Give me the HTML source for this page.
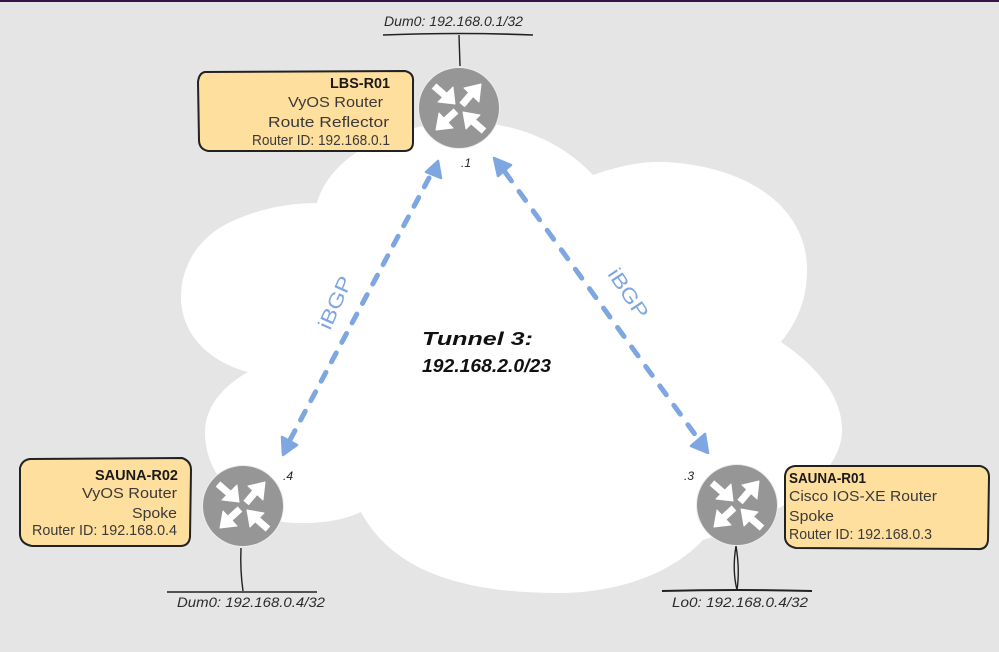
<!DOCTYPE html>
<html><head><meta charset="utf-8"><style>
html,body{margin:0;padding:0;background:#e5e5e5}
svg{display:block}
text{font-family:"Liberation Sans","DejaVu Sans",sans-serif;fill:#3a3a3a;font-size:15px}
.i{font-style:italic;font-size:14px;fill:#2b2b2b}
.b{font-weight:bold;fill:#1a1a1a}
.t{font-weight:bold;font-style:italic;fill:#111;font-size:18px}
.n{font-style:italic;font-size:12px;fill:#222}
.g{fill:#7ea6e0;font-size:20px}
</style></head><body>
<svg width="999" height="652" viewBox="0 0 999 652" xmlns="http://www.w3.org/2000/svg">
<defs>
<g id="r">
<circle r="40.5" fill="#969696" stroke="#ececec" stroke-width="1"/>
<g fill="#fff" stroke="#fff" stroke-linejoin="round">
<line x1="-25" y1="-22" x2="-10" y2="-9" stroke-width="7"/>
<polygon points="-4,-4 -21,-6 -6,-21" stroke-width="1"/>
<line x1="3" y1="-3" x2="14" y2="-16" stroke-width="7"/>
<polygon points="22,-24 5,-20 20,-6" stroke-width="1"/>
<line x1="-3" y1="3" x2="-15" y2="14" stroke-width="7"/>
<polygon points="-23,22 -20,5 -6,20" stroke-width="1"/>
<line x1="25" y1="23" x2="10" y2="10" stroke-width="7"/>
<polygon points="4,4 21,7 7,21" stroke-width="1"/>
</g>
</g>
</defs>
<rect width="999" height="652" fill="#e5e5e5"/>
<rect width="999" height="2" fill="#3b1048"/>
<path fill="#fff" d="M317 203 C330 155 395 122 465 122 C520 122 565 145 593 175 C618 166 642 161 665 162 C745 166 807 205 807 270 C807 300 797 322 781 342 C815 365 842 395 842 430 C842 480 770 520 703 540 C670 575 615 593 560 593 C470 593 395 575 361 512 C340 522 310 525 283 522 C240 510 205 475 205 433 C205 405 225 385 248 372 C210 362 181 335 181 297 C181 260 205 232 235 220 C262 208 290 203 317 203 Z"/>

<g stroke="#7ea6e0" stroke-width="5" fill="none" stroke-linecap="round">
<line x1="429" y1="178" x2="290" y2="440" stroke-dasharray="10 12"/>
<line x1="505" y1="172" x2="699" y2="440" stroke-dasharray="11 13"/>
</g>
<g fill="#7ea6e0" stroke="#7ea6e0" stroke-width="2.5" stroke-linejoin="round">
<polygon points="438,161 441,178 426,172"/>
<polygon points="283,455 282,437 297,445"/>
<polygon points="494,158 511,165 498,176"/>
<polygon points="708,453 691,446 705,434"/>
</g>

<g stroke="#222" fill="none" stroke-width="1.4">
<path d="M383 35 Q460 32 533 35" stroke-width="1.6"/>
<path d="M459 35 L460 66"/>
<path d="M241 548 Q240 570 243 591"/>
<path d="M167 592 L317 592" stroke-width="1.6"/>
<path d="M662 591 Q737 589 812 591" stroke-width="2"/>
<path d="M736 546 Q732 570 737 590 Q740 570 736 546"/>
</g>

<use href="#r" x="459" y="108"/>
<use href="#r" x="243" y="506"/>
<use href="#r" x="737" y="505"/>

<g fill="#ffdf9e" stroke="#222" stroke-width="2">
<path d="M205 72 L405 71 Q414 73 413 82 L413 142 Q413 151 404 151 L208 151 Q199 149 199 140 L198 82 Q199 73 205 72 Z"/>
<path d="M30 459 L182 458 Q191 461 191 470 L190 537 Q189 546 180 546 L32 546 Q21 544 20 535 L20 468 Q22 460 30 459 Z"/>
<path d="M795 466 L980 466 Q989 468 989 477 L988 540 Q987 550 977 549 L796 548 Q786 546 785 538 L785 476 Q786 467 795 466 Z"/>
</g>

<text class="i" x="384" y="26" textLength="139" lengthAdjust="spacingAndGlyphs">Dum0: 192.168.0.1/32</text>
<text class="b" x="330" y="88" textLength="60" lengthAdjust="spacingAndGlyphs">LBS-R01</text>
<text x="288" y="107" textLength="95" lengthAdjust="spacingAndGlyphs">VyOS Router</text>
<text x="268" y="127" textLength="121" lengthAdjust="spacingAndGlyphs">Route Reflector</text>
<text x="252" y="145" textLength="138" lengthAdjust="spacingAndGlyphs">Router ID: 192.168.0.1</text>

<text class="b" x="95" y="480" textLength="83" lengthAdjust="spacingAndGlyphs">SAUNA-R02</text>
<text x="82" y="498" textLength="95" lengthAdjust="spacingAndGlyphs">VyOS Router</text>
<text x="132" y="518" textLength="45" lengthAdjust="spacingAndGlyphs">Spoke</text>
<text x="32" y="535" textLength="145" lengthAdjust="spacingAndGlyphs">Router ID: 192.168.0.4</text>

<text class="b" x="789" y="483" textLength="77" lengthAdjust="spacingAndGlyphs">SAUNA-R01</text>
<text x="789" y="501" textLength="148" lengthAdjust="spacingAndGlyphs">Cisco IOS-XE Router</text>
<text x="789" y="521" textLength="45" lengthAdjust="spacingAndGlyphs">Spoke</text>
<text x="789" y="539" textLength="143" lengthAdjust="spacingAndGlyphs">Router ID: 192.168.0.3</text>

<text class="i" x="177" y="607" textLength="148" lengthAdjust="spacingAndGlyphs">Dum0: 192.168.0.4/32</text>
<text class="i" x="672" y="607" textLength="136" lengthAdjust="spacingAndGlyphs">Lo0: 192.168.0.4/32</text>

<text class="n" x="461" y="167">.1</text>
<text class="n" x="283" y="480">.4</text>
<text class="n" x="684" y="480">.3</text>

<text class="t" x="422" y="345" textLength="111" lengthAdjust="spacingAndGlyphs">Tunnel 3:</text>
<text class="t" x="422" y="372" textLength="129" lengthAdjust="spacingAndGlyphs">192.168.2.0/23</text>

<text class="g" transform="translate(330,331) rotate(-66)" textLength="56" lengthAdjust="spacingAndGlyphs">iBGP</text>
<text class="g" transform="translate(607,274) rotate(56)" textLength="56" lengthAdjust="spacingAndGlyphs">iBGP</text>
</svg>
</body></html>
